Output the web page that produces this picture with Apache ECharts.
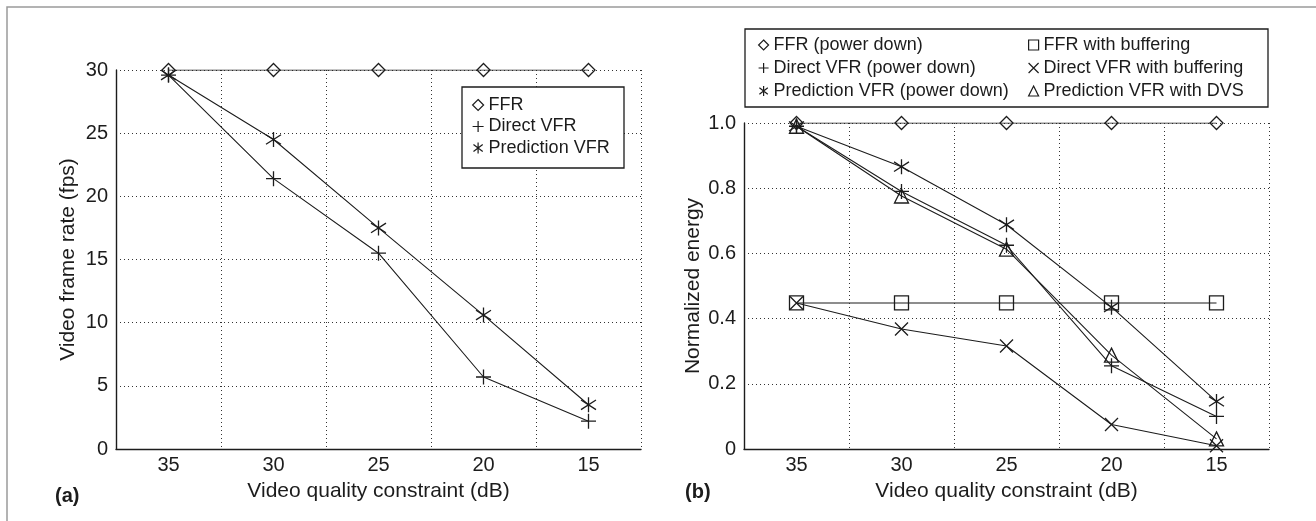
<!DOCTYPE html>
<html>
<head>
<meta charset="utf-8">
<title>Video frame rate / normalized energy</title>
<script src="https://cdn.jsdelivr.net/npm/echarts/dist/echarts.min.js"></script>
<style>
  html, body { margin: 0; padding: 0; background: #fff; }
  #chart { width: 1316px; height: 521px; }
</style>
</head>
<body>
<div id="chart"></div>
<script>
// x categories (video quality constraint, dB)
const categories = ['35', '30', '25', '20', '15'];

// (a) video frame rate (fps)
const ffrFps = [30, 30, 30, 30, 30];
const directFps = [29.6, 21.4, 15.5, 5.7, 2.2];
const predFps = [29.6, 24.5, 17.5, 10.6, 3.5];

// (b) normalized energy
const ffrEnergy = [1, 1, 1, 1, 1];
const directEnergy = [0.99, 0.79, 0.625, 0.255, 0.1];
const predEnergy = [0.99, 0.866, 0.688, 0.435, 0.146];
const ffrBufEnergy = [0.448, 0.448, 0.448, 0.448, 0.448];
const directBufEnergy = [0.448, 0.368, 0.316, 0.075, 0.01];
const predDvsEnergy = [0.99, 0.776, 0.613, 0.288, 0.031];

const FONT = 'Liberation Sans, Arial, Helvetica, sans-serif';
const INK = '#1c1c1c';

// hollow marker shapes
const SYM = {
  diamond: 'path://M5,0 L10,5 L5,10 L0,5 Z',
  plus: 'path://M5,0 L5,10 M0,5 L10,5',
  star: 'path://M5,0 L5,10 M0.8,1.8 L9.2,8.2 M9.2,1.8 L0.8,8.2',
  square: 'path://M0,0 L10,0 L10,10 L0,10 Z',
  cross: 'path://M0,0 L10,10 M10,0 L0,10',
  triangle: 'path://M5,0 L10,10 L0,10 Z'
};

function xAxisOf(gridIndex) {
  return {
    type: 'category',
    gridIndex: gridIndex,
    data: categories,
    boundaryGap: true,
    name: 'Video quality constraint (dB)',
    nameLocation: 'middle',
    nameGap: 32,
    nameTextStyle: { fontFamily: FONT, fontSize: 21, color: INK },
    axisLine: { lineStyle: { color: INK, width: 1.4 } },
    axisTick: { show: false },
    axisLabel: { fontFamily: FONT, fontSize: 20, color: INK, margin: 6 },
    splitLine: { show: true, lineStyle: { color: '#333', width: 1, type: [1, 3] } }
  };
}

function yAxisOf(gridIndex, opts) {
  return Object.assign({
    type: 'value',
    gridIndex: gridIndex,
    nameLocation: 'middle',
    nameTextStyle: { fontFamily: FONT, fontSize: 21, color: INK },
    axisLine: { show: true, lineStyle: { color: INK, width: 1.4 } },
    axisTick: { show: false },
    splitLine: { show: true, lineStyle: { color: '#333', width: 1, type: [1, 3] } }
  }, opts);
}

function lineSeries(name, data, sym, size, axisIdx) {
  return {
    name: name,
    type: 'line',
    xAxisIndex: axisIdx,
    yAxisIndex: axisIdx,
    data: data,
    symbol: sym,
    symbolSize: size,
    showAllSymbol: true,
    lineStyle: { color: INK, width: 1.1 },
    itemStyle: { color: 'transparent', borderColor: INK, borderWidth: 1.3 },
    emphasis: { disabled: true }
  };
}

const legendBase = {
  orient: 'vertical',
  padding: 0,
  itemWidth: 11,
  itemHeight: 11,
  selectedMode: false,
  textStyle: { fontFamily: FONT, fontSize: 18, color: INK, lineHeight: 18 },
  itemStyle: { color: 'transparent', borderColor: INK, borderWidth: 1.2 }
};

const chart = echarts.init(document.getElementById('chart'));

const option = {
  animation: false,
  backgroundColor: '#fff',
  grid: [
    { left: 116, top: 70, width: 525, height: 379 },
    { left: 744, top: 123, width: 525, height: 326 }
  ],
  xAxis: [xAxisOf(0), xAxisOf(1)],
  yAxis: [
    yAxisOf(0, {
      min: 0, max: 30, interval: 5,
      name: 'Video frame rate (fps)',
      nameGap: 37,
      axisLabel: { fontFamily: FONT, fontSize: 20, color: INK, margin: 8 }
    }),
    yAxisOf(1, {
      min: 0, max: 1, interval: 0.2,
      name: 'Normalized energy',
      nameGap: 40,
      axisLabel: {
        fontFamily: FONT, fontSize: 20, color: INK, margin: 8,
        formatter: function (v) { return v === 0 ? '0' : v.toFixed(1); }
      }
    })
  ],
  legend: [
    Object.assign({}, legendBase, {
      left: 472, top: 96, itemGap: 3.5,
      data: [
        { name: 'FFR', icon: SYM.diamond },
        { name: 'Direct VFR', icon: SYM.plus },
        { name: 'Prediction VFR', icon: SYM.star }
      ]
    }),
    Object.assign({}, legendBase, {
      left: 758, top: 36, itemGap: 5, itemWidth: 10, itemHeight: 10,
      data: [
        { name: 'FFR (power down)', icon: SYM.diamond },
        { name: 'Direct VFR (power down)', icon: SYM.plus },
        { name: 'Prediction VFR (power down)', icon: SYM.star }
      ]
    }),
    Object.assign({}, legendBase, {
      left: 1028, top: 36, itemGap: 5, itemWidth: 10, itemHeight: 10,
      data: [
        { name: 'FFR with buffering', icon: SYM.square },
        { name: 'Direct VFR with buffering', icon: SYM.cross },
        { name: 'Prediction VFR with DVS', icon: SYM.triangle }
      ]
    })
  ],
  graphic: [
    // outer frame of the figure
    { type: 'rect', shape: { x: 7, y: 7, width: 1340, height: 560 },
      style: { fill: 'none', stroke: '#9a9a9a', lineWidth: 1.5 }, silent: true },
    // legend boxes (under the legend text, over the grid lines)
    { type: 'rect', shape: { x: 462, y: 87, width: 162, height: 81 },
      style: { fill: '#fff', stroke: INK, lineWidth: 1.3 }, z: 3, silent: true },
    { type: 'rect', shape: { x: 745, y: 29, width: 523, height: 78 },
      style: { fill: '#fff', stroke: INK, lineWidth: 1.3 }, z: 3, silent: true },
    // panel letters
    { type: 'text', left: 55, top: 486,
      style: { text: '(a)', font: 'bold 20px ' + FONT, fill: INK }, silent: true },
    { type: 'text', left: 685, top: 482,
      style: { text: '(b)', font: 'bold 20px ' + FONT, fill: INK }, silent: true }
  ],
  series: [
    lineSeries('FFR', ffrFps, SYM.diamond, 13, 0),
    lineSeries('Direct VFR', directFps, SYM.plus, 15, 0),
    lineSeries('Prediction VFR', predFps, SYM.star, 15, 0),
    lineSeries('FFR (power down)', ffrEnergy, SYM.diamond, 13, 1),
    lineSeries('Direct VFR (power down)', directEnergy, SYM.plus, 15, 1),
    lineSeries('Prediction VFR (power down)', predEnergy, SYM.star, 15, 1),
    lineSeries('FFR with buffering', ffrBufEnergy, SYM.square, 14, 1),
    lineSeries('Direct VFR with buffering', directBufEnergy, SYM.cross, 13, 1),
    lineSeries('Prediction VFR with DVS', predDvsEnergy, SYM.triangle, 14, 1)
  ]
};

chart.setOption(option);
</script>
</body>
</html>
